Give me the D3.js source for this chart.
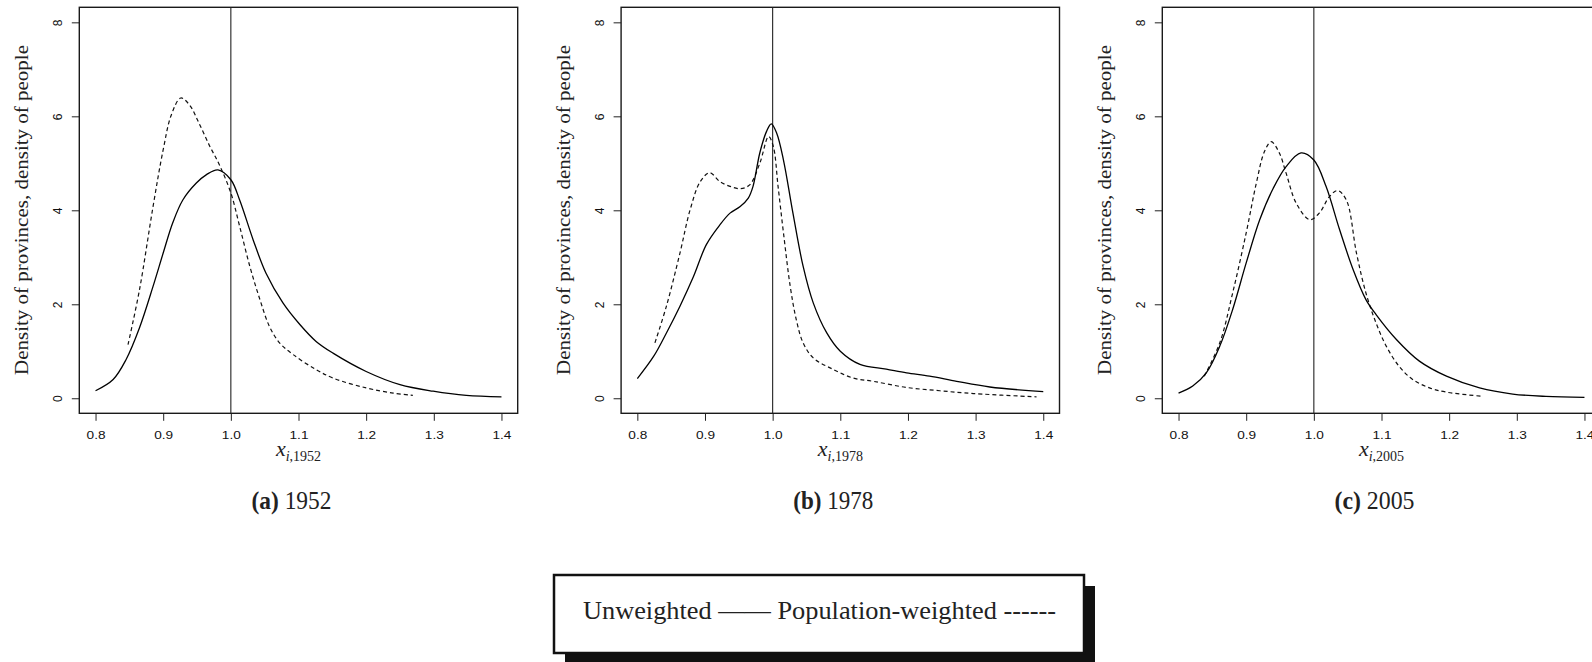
<!DOCTYPE html>
<html><head><meta charset="utf-8">
<script src="https://cdn.jsdelivr.net/npm/d3@7"></script>
<style>body{margin:0;background:#fff;overflow:hidden} svg{display:block}</style>
</head><body><svg id="chart" width="1592" height="662"></svg>
<script>
// ---------- data ----------
const years = ["1952", "1978", "2005"];
const captionLetters = ["(a)", "(b)", "(c)"];
const xTicks = [0.8, 0.9, 1.0, 1.1, 1.2, 1.3, 1.4];
const xTickLabels = ["0.8", "0.9", "1.0", "1.1", "1.2", "1.3", "1.4"];
const yTicks = [0, 2, 4, 6, 8];
const yTickLabels = ["0", "2", "4", "6", "8"];
const yTitle = "Density of provinces, density of people";
const legendText = "Unweighted \u2014\u2014 Population-weighted ------";
const referenceLine = 1.0;

// 1952
const unweighted1952X = [0.8, 0.826, 0.845, 0.865, 0.885, 0.9, 0.914, 0.929, 0.949, 0.964, 0.981, 1.0, 1.013, 1.033, 1.052, 1.077, 1.102, 1.126, 1.151, 1.2, 1.25, 1.299, 1.348, 1.4];
const unweighted1952Y = [0.16, 0.40, 0.82, 1.50, 2.38, 3.09, 3.73, 4.22, 4.58, 4.76, 4.86, 4.65, 4.22, 3.37, 2.66, 2.03, 1.57, 1.21, 0.96, 0.57, 0.29, 0.15, 0.06, 0.03];
const weighted1952X = [0.848, 0.865, 0.885, 0.9, 0.912, 0.926, 0.939, 0.954, 0.969, 0.983, 1.0, 1.013, 1.028, 1.043, 1.057, 1.072, 1.092, 1.126, 1.151, 1.2, 1.24, 1.269];
const weighted1952Y = [1.14, 2.31, 4.08, 5.29, 6.03, 6.39, 6.24, 5.82, 5.36, 4.97, 4.37, 3.66, 2.81, 2.10, 1.53, 1.18, 0.93, 0.61, 0.43, 0.22, 0.11, 0.06];

// 1978
const unweighted1978X = [0.8, 0.824, 0.843, 0.863, 0.883, 0.902, 0.922, 0.937, 0.952, 0.964, 0.971, 0.981, 0.991, 0.998, 1.006, 1.016, 1.03, 1.045, 1.06, 1.08, 1.1, 1.129, 1.168, 1.198, 1.232, 1.272, 1.321, 1.4];
const unweighted1978Y = [0.42, 0.89, 1.39, 1.96, 2.59, 3.27, 3.69, 3.94, 4.08, 4.26, 4.51, 5.22, 5.68, 5.84, 5.64, 5.07, 3.94, 2.81, 2.03, 1.39, 1.00, 0.72, 0.62, 0.54, 0.47, 0.36, 0.24, 0.14];
const weighted1978X = [0.826, 0.843, 0.863, 0.878, 0.893, 0.907, 0.922, 0.937, 0.952, 0.966, 0.981, 0.994, 1.001, 1.008, 1.016, 1.026, 1.035, 1.045, 1.06, 1.09, 1.119, 1.149, 1.198, 1.247, 1.297, 1.39];
const weighted1978Y = [1.18, 1.96, 3.09, 4.01, 4.61, 4.80, 4.61, 4.51, 4.46, 4.54, 5.00, 5.57, 5.36, 4.51, 3.52, 2.38, 1.67, 1.18, 0.86, 0.61, 0.43, 0.36, 0.23, 0.16, 0.10, 0.03];

// 2005
const unweighted2005X = [0.8, 0.821, 0.841, 0.861, 0.88, 0.9, 0.92, 0.94, 0.959, 0.981, 1.0, 1.018, 1.038, 1.058, 1.077, 1.092, 1.122, 1.156, 1.196, 1.245, 1.294, 1.343, 1.4];
const unweighted2005Y = [0.11, 0.26, 0.54, 1.11, 1.89, 2.88, 3.80, 4.47, 4.93, 5.22, 5.07, 4.51, 3.59, 2.74, 2.10, 1.78, 1.25, 0.79, 0.47, 0.22, 0.09, 0.04, 0.02];
const weighted2005X = [0.838, 0.861, 0.88, 0.9, 0.915, 0.927, 0.937, 0.949, 0.959, 0.974, 0.994, 1.008, 1.023, 1.035, 1.048, 1.063, 1.077, 1.092, 1.107, 1.126, 1.146, 1.171, 1.196, 1.25];
const weighted2005Y = [0.47, 1.18, 2.24, 3.52, 4.58, 5.25, 5.46, 5.22, 4.79, 4.15, 3.80, 3.94, 4.29, 4.42, 4.22, 3.09, 2.24, 1.60, 1.11, 0.68, 0.40, 0.22, 0.13, 0.04];

const unweightedX = [unweighted1952X, unweighted1978X, unweighted2005X];
const unweightedY = [unweighted1952Y, unweighted1978Y, unweighted2005Y];
const weightedX = [weighted1952X, weighted1978X, weighted2005X];
const weightedY = [weighted1952Y, weighted1978Y, weighted2005Y];

// ---------- layout ----------
const panelLeft = [79.3, 621.1, 1162.3];
const plotW = 438.4, plotTop = 7.3, plotBottom = 413.3;
const serif = "'Liberation Serif','Times New Roman',serif";
const sans = "'Liberation Sans',Arial,Helvetica,sans-serif";

const svg = d3.select("#chart");

years.forEach((yr, i) => {
  const L = panelLeft[i];
  const x = d3.scaleLinear().domain([0.776, 1.424]).range([L, L + plotW]);
  const y = d3.scaleLinear().domain([-0.32, 8.32]).range([plotBottom, plotTop]);
  const g = svg.append("g");

  // x axis
  const xa = g.append("g").attr("transform", `translate(0,${plotBottom})`)
    .call(d3.axisBottom(x).tickValues(xTicks).tickFormat((d, k) => xTickLabels[k])
      .tickSize(7.5).tickPadding(10.5).tickSizeOuter(0));
  xa.select(".domain").remove();
  xa.selectAll("line").attr("stroke", "#222").attr("stroke-width", 1);
  xa.selectAll("text").attr("font-family", sans).attr("font-size", 10.5).attr("fill", "#111")
    .attr("transform", "scale(1.3,1)");

  // y axis
  const ya = g.append("g").attr("transform", `translate(${L},0)`)
    .call(d3.axisLeft(y).tickValues(yTicks).tickFormat((d, k) => yTickLabels[k])
      .tickSize(7.5).tickSizeOuter(0));
  ya.select(".domain").remove();
  ya.selectAll("line").attr("stroke", "#222").attr("stroke-width", 1);
  ya.selectAll("text").attr("x", null).attr("dy", null)
    .attr("font-family", sans).attr("font-size", 12).attr("fill", "#111")
    .attr("text-anchor", "middle")
    .attr("transform", "translate(-17.6,0) rotate(-90)");

  // box
  g.append("rect").attr("x", L).attr("y", plotTop).attr("width", plotW).attr("height", plotBottom - plotTop)
    .attr("fill", "none").attr("stroke", "#1a1a1a").attr("stroke-width", 1.4);

  // reference line at 1.0
  g.append("line").attr("x1", x(referenceLine)).attr("x2", x(referenceLine))
    .attr("y1", plotTop).attr("y2", plotBottom).attr("stroke", "#222").attr("stroke-width", 1.1);

  const line = d3.line().x(d => x(d[0])).y(d => y(d[1])).curve(d3.curveCatmullRom.alpha(0.5));
  const uw = unweightedX[i].map((v, k) => [v, unweightedY[i][k]]);
  const pw = weightedX[i].map((v, k) => [v, weightedY[i][k]]);
  g.append("path").attr("d", line(pw)).attr("fill", "none").attr("stroke", "#111")
    .attr("stroke-width", 1.2).attr("stroke-dasharray", "4,3");
  g.append("path").attr("d", line(uw)).attr("fill", "none").attr("stroke", "#000")
    .attr("stroke-width", 1.3);

  // y title
  g.append("text").attr("transform", `translate(${L - 51.6},210) rotate(-90)`)
    .attr("text-anchor", "middle").attr("font-family", serif).attr("font-size", 18)
    .attr("fill", "#222").attr("textLength", 330).attr("lengthAdjust", "spacingAndGlyphs")
    .text(yTitle);

  // x title
  const cx = L + plotW / 2;
  const xt = g.append("text").attr("x", cx).attr("y", 456).attr("text-anchor", "middle")
    .attr("font-family", serif).attr("fill", "#222");
  xt.append("tspan").attr("font-style", "italic").attr("font-size", 22).text("x");
  xt.append("tspan").attr("font-style", "italic").attr("font-size", 14).attr("dy", 5).text("i");
  xt.append("tspan").attr("font-size", 14).text("," + yr);

  // caption
  const cap = g.append("text").attr("x", cx - 7).attr("y", 509).attr("text-anchor", "middle")
    .attr("font-family", serif).attr("font-size", 25.5).attr("fill", "#222")
    .attr("textLength", 80).attr("lengthAdjust", "spacingAndGlyphs");
  cap.append("tspan").attr("font-weight", "bold").text(captionLetters[i]);
  cap.append("tspan").text(" " + yr);
});

// legend
const lg = svg.append("g");
lg.append("rect").attr("x", 565).attr("y", 586).attr("width", 530).attr("height", 78).attr("fill", "#111");
lg.append("rect").attr("x", 554).attr("y", 575).attr("width", 530).attr("height", 78)
  .attr("fill", "#fff").attr("stroke", "#111").attr("stroke-width", 2.5);
lg.append("text").attr("x", 819.5).attr("y", 619.3).attr("text-anchor", "middle")
  .attr("font-family", serif).attr("font-size", 26).attr("fill", "#222")
  .attr("textLength", 473).attr("lengthAdjust", "spacingAndGlyphs").text(legendText);
</script></body></html>
